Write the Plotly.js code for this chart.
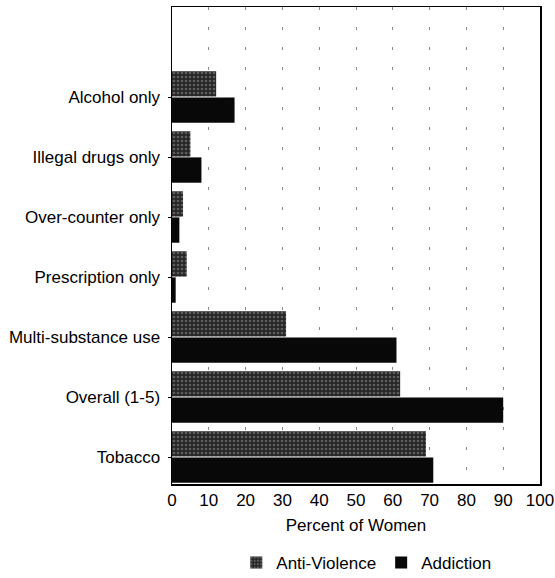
<!DOCTYPE html>
<html>
<head>
<meta charset="utf-8">
<script src="https://cdn.plot.ly/plotly-3.0.1.min.js"></script>
<style>
html,body{margin:0;padding:0;background:#fff;}
#chart{width:555px;height:578px;}
</style>
</head>
<body>
<div id="chart"></div>
<script>
var categories = ["Alcohol only", "Illegal drugs only", "Over-counter only", "Prescription only", "Multi-substance use", "Overall (1-5)", "Tobacco"];
var antiViolence = [12, 5, 3, 4, 31, 62, 69];
var addiction = [17, 8, 2, 1, 61, 90, 71];
var xTicks = [0, 10, 20, 30, 40, 50, 60, 70, 80, 90, 100];

var font = {family: "Liberation Sans, Arial, Helvetica, sans-serif", size: 17, color: "#000"};

var traces = [
  {
    type: "bar", orientation: "h", name: "Anti-Violence",
    y: categories, x: antiViolence,
    marker: {color: "#262626", line: {width: 0},
             pattern: {shape: ".", fgcolor: "#5e5e5e", bgcolor: "#262626", size: 4, solidity: 0.35}}
  },
  {
    type: "bar", orientation: "h", name: "Addiction",
    y: categories, x: addiction,
    marker: {color: "#080808", line: {width: 0}}
  }
];

var layout = {
  width: 555, height: 578,
  margin: {l: 172, r: 15, t: 7, b: 94},
  paper_bgcolor: "#fff", plot_bgcolor: "#fff",
  font: font,
  barmode: "group", bargap: 0.13, bargroupgap: 0.03,
  showlegend: true,
  legend: {orientation: "h", x: 0.66, xanchor: "center", xref: "container",
           y: 0.026, yanchor: "middle", yref: "container",
           font: font, itemwidth: 30, traceorder: "normal", tracegroupgap: 0},
  xaxis: {
    range: [0, 100], tickvals: xTicks, ticktext: xTicks.map(String),
    showgrid: true, gridcolor: "#8a8a8a", gridwidth: 1, griddash: "3px,17px",
    showline: true, linecolor: "#000", linewidth: 1.5, mirror: true,
    ticks: "", zeroline: false, tickfont: font,
    title: {text: "Percent of Women", font: font, standoff: 10}
  },
  yaxis: {
    type: "category", categoryorder: "array", categoryarray: categories,
    range: [6.45, -1.5],
    showgrid: false, showline: true, linecolor: "#000", linewidth: 1.5, mirror: true,
    ticks: "outside", ticklen: 3, tickcolor: "#000", tickfont: font, ticklabelstandoff: 4
  }
};

Plotly.newPlot("chart", traces, layout, {displayModeBar: false, staticPlot: true});
</script>
</body>
</html>
